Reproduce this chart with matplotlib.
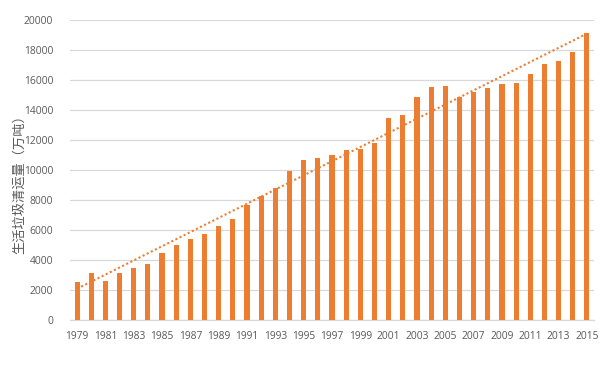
import numpy as np
import matplotlib.pyplot as plt

plt.rcParams['font.family'] = ['Open Sans', 'Noto Sans CJK SC', 'DejaVu Sans']

# years and municipal waste collected (10k tonnes)
years = list(range(1979, 2016))
waste = [2508, 3132, 2606, 3125, 3452, 3757, 4477, 5009, 5398, 5751,
         6292, 6767, 7636, 8262, 8791, 9952, 10671, 10825, 10982, 11302,
         11415, 11819, 13470, 13650, 14857, 15509, 15577, 14841, 15215, 15438,
         15734, 15805, 16395, 17081, 17239, 17860, 19142]
ylabel = '生活垃圾清运量（万吨）'

orange = '#ED7D31'
grey_txt = '#595959'
grid_c = '#D9D9D9'

fig = plt.figure(figsize=(6.08, 3.87), dpi=100)
ax = fig.add_axes([0.1151, 0.1731, 0.8619, 0.7752])

x = np.arange(len(years))
ax.bar(x, waste, width=0.36, color=orange, zorder=3)

# linear trendline like excel
k, b = np.polyfit(x, waste, 1)
ax.plot(x, k * x + b, color=orange, linestyle=(0, (1, 1.2)), linewidth=1.5, zorder=4)

ax.set_xlim(-0.5, len(years) - 0.5)
ax.set_ylim(0, 20000)
ax.set_yticks(range(0, 20001, 2000))
ax.set_xticks(x[::2])
ax.set_xticklabels([str(y) for y in years[::2]])
ax.tick_params(length=0, labelsize=7.4, colors=grey_txt)
ax.tick_params(axis='y', pad=12)
ax.tick_params(axis='x', pad=8)

ax.grid(axis='y', color=grid_c, linewidth=0.9, zorder=0)
for s in ['top', 'right', 'left']:
    ax.spines[s].set_visible(False)
ax.spines['bottom'].set_color(grid_c)
ax.spines['bottom'].set_linewidth(0.9)

ax.set_ylabel(ylabel, fontsize=9.5, color=grey_txt,
              family=['Noto Sans CJK SC', 'DejaVu Sans'])
ax.yaxis.set_label_coords(-0.084, 0.463)

fig.savefig('out.png', dpi=100)
